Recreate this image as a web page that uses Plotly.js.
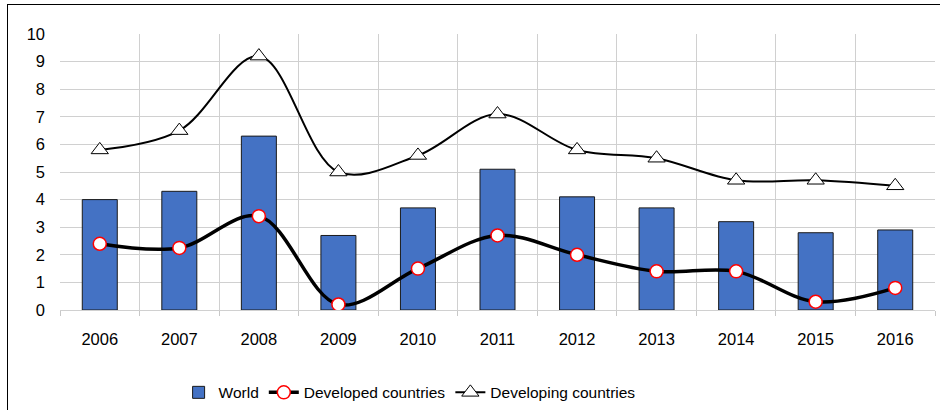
<!DOCTYPE html>
<html>
<head>
<meta charset="utf-8">
<script src="https://cdn.plot.ly/plotly-3.0.1.min.js"></script>
<style>
  html, body { margin: 0; padding: 0; background: #fff; }
  #wrap { position: relative; width: 940px; height: 410px; }
  #chart { width: 940px; height: 410px; }
  #frame { position: absolute; left: 7px; top: 4px; width: 940px; height: 420px;
           border-left: 1.5px solid #000; border-top: 1.5px solid #000; pointer-events: none; }
</style>
</head>
<body>
<div id="wrap"><div id="chart"></div><div id="frame"></div></div>
<script>
const years = ['2006','2007','2008','2009','2010','2011','2012','2013','2014','2015','2016'];
const world = [4.0, 4.3, 6.3, 2.7, 3.7, 5.1, 4.1, 3.7, 3.2, 2.8, 2.9];
const developed = [2.4, 2.25, 3.4, 0.2, 1.5, 2.7, 2.0, 1.4, 1.4, 0.3, 0.8];
const developing = [5.8, 6.5, 9.2, 5.0, 5.6, 7.1, 5.8, 5.5, 4.7, 4.7, 4.5];
const yTicks = [0,1,2,3,4,5,6,7,8,9,10];

const traces = [
  {
    type: 'bar', name: 'World', x: years, y: world, width: 0.44,
    marker: { color: '#4472C4', line: { color: '#1a1a1a', width: 1 } }
  },
  {
    type: 'scatter', mode: 'lines+markers', name: 'Developed countries', x: years, y: developed,
    line: { color: '#000', width: 3.5, shape: 'spline', smoothing: 1 },
    marker: { symbol: 'circle', size: 13, color: '#fff', line: { color: '#ff0000', width: 1.5 } }
  },
  {
    type: 'scatter', mode: 'lines+markers', name: 'Developing countries', x: years, y: developing,
    line: { color: '#000', width: 2, shape: 'spline', smoothing: 1 },
    marker: { symbol: 'triangle-up', size: 15, color: '#fff', line: { color: '#000', width: 1 } }
  }
];

const layout = {
  width: 940, height: 410,
  margin: { l: 60, r: 5, t: 34, b: 100 },
  paper_bgcolor: '#fff', plot_bgcolor: '#fff',
  font: { family: 'Liberation Sans, Arial, sans-serif', size: 16.5, color: '#000' },
  showlegend: true,
  legend: { orientation: 'h', xref: 'container', x: 0.19, xanchor: 'left',
            yref: 'container', y: 0.042, yanchor: 'middle',
            font: { size: 15.5 }, traceorder: 'normal' },
  xaxis: {
    type: 'category', range: [-0.5, 10.5], tickson: 'boundaries', showgrid: true,
    gridcolor: '#d0d0d0', gridwidth: 1,
    ticks: 'outside', ticklen: 5, tickcolor: '#c8c8c8', showline: true, linecolor: '#d0d0d0',
    ticklabelstandoff: 14, tickfont: { size: 16.5 }, zeroline: false, automargin: false
  },
  yaxis: {
    range: [0, 10], tickvals: yTicks, showgrid: true, gridcolor: '#d0d0d0', gridwidth: 1,
    zeroline: false, showline: false, ticks: '', ticklabelstandoff: 14, tickfont: { size: 16.5 },
    automargin: false
  }
};

Plotly.newPlot('chart', traces, layout, { displayModeBar: false, staticPlot: true });
</script>
</body>
</html>
